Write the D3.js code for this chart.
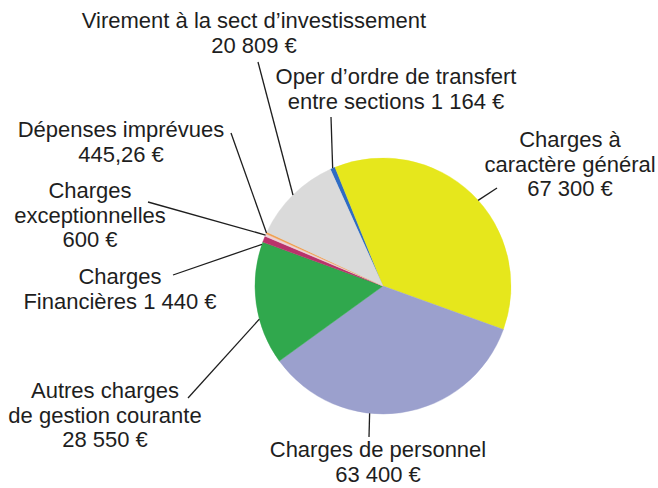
<!DOCTYPE html>
<html>
<head>
<meta charset="utf-8">
<script src="https://cdn.jsdelivr.net/npm/d3@7"></script>
<style>
  html, body { margin: 0; padding: 0; background: #fff; }
  svg { display: block; }
  text { font-family: "Liberation Sans", Arial, sans-serif; font-size: 22px; fill: #1e1e1e; }
</style>
</head>
<body>
<svg id="chart" width="658" height="488"></svg>
<script>
// Data (clockwise, starting with the small blue slice at the top)
const categories = [
  "Oper d’ordre de transfert entre sections",
  "Charges à caractère général",
  "Charges de personnel",
  "Autres charges de gestion courante",
  "Charges Financières",
  "Charges exceptionnelles",
  "Dépenses imprévues",
  "Virement à la sect d’investissement"
];
const values = [1164, 67300, 63400, 28550, 1440, 600, 445.26, 20809];
const labelLines = [
  ["Oper d’ordre de transfert", "entre sections 1 164 €"],
  ["Charges à", "caractère général", "67 300 €"],
  ["Charges de personnel", "63 400 €"],
  ["Autres charges", "de gestion courante", "28 550 €"],
  ["Charges", "Financières 1 440 €"],
  ["Charges", "exceptionnelles", "600 €"],
  ["Dépenses imprévues", "445,26 €"],
  ["Virement à la sect d’investissement", "20 809 €"]
];
const colors = ["#2f6cc4", "#e6e71c", "#9ba0cd", "#30a84d", "#b8336b", "#eed3d6", "#f0a050", "#dadada"];

// Label layout: text centre x, first baseline y, leader outer point, optional leader angle (deg)
const labelLayout = [
  { x: 396, y: 84,  lx: 331, ly: 117 },
  { x: 570, y: 147, lx: 497, ly: 188, angle: 48 },
  { x: 378, y: 457, lx: 369, ly: 437, angle: 186 },
  { x: 105, y: 398, lx: 188, ly: 398, angle: 255 },
  { x: 120, y: 284, lx: 173, ly: 275, angle: 289 },
  { x: 90,  y: 198, lx: 148, ly: 202 },
  { x: 121, y: 137, lx: 231, ly: 133 },
  { x: 254, y: 28,  lx: 258, ly: 62 }
];

const svg = d3.select("#chart");
const cx = 383, cy = 286, radius = 128;
const startDeg = -24.3;
const LINE_H = 24.7;

const pie = d3.pie()
  .sort(null)
  .value(d => d)
  .startAngle(startDeg * Math.PI / 180)
  .endAngle((startDeg + 360) * Math.PI / 180);

const arcs = pie(values);
const arc = d3.arc().innerRadius(0).outerRadius(radius);

const g = svg.append("g").attr("transform", `translate(${cx},${cy})`);

g.selectAll("path")
  .data(arcs)
  .join("path")
  .attr("d", arc)
  .attr("fill", (d, i) => colors[i])
  .attr("stroke", (d, i) => colors[i])
  .attr("stroke-width", 0.4);

// Leader lines
svg.append("g")
  .selectAll("line")
  .data(arcs)
  .join("line")
  .attr("x1", (d, i) => labelLayout[i].lx)
  .attr("y1", (d, i) => labelLayout[i].ly)
  .attr("x2", (d, i) => {
    const a = labelLayout[i].angle != null ? labelLayout[i].angle * Math.PI / 180 : (d.startAngle + d.endAngle) / 2;
    return cx + radius * Math.sin(a);
  })
  .attr("y2", (d, i) => {
    const a = labelLayout[i].angle != null ? labelLayout[i].angle * Math.PI / 180 : (d.startAngle + d.endAngle) / 2;
    return cy - radius * Math.cos(a);
  })
  .attr("stroke", "#1e1e1e")
  .attr("stroke-width", 1.3);

// Labels
const labels = svg.append("g")
  .selectAll("text")
  .data(categories)
  .join("text")
  .attr("text-anchor", "middle")
  .attr("x", (d, i) => labelLayout[i].x)
  .attr("y", (d, i) => labelLayout[i].y);

labels.each(function(d, i) {
  d3.select(this).selectAll("tspan")
    .data(labelLines[i])
    .join("tspan")
    .attr("x", labelLayout[i].x)
    .attr("dy", (t, j) => j === 0 ? 0 : LINE_H)
    .text(t => t);
});
</script>
</body>
</html>
